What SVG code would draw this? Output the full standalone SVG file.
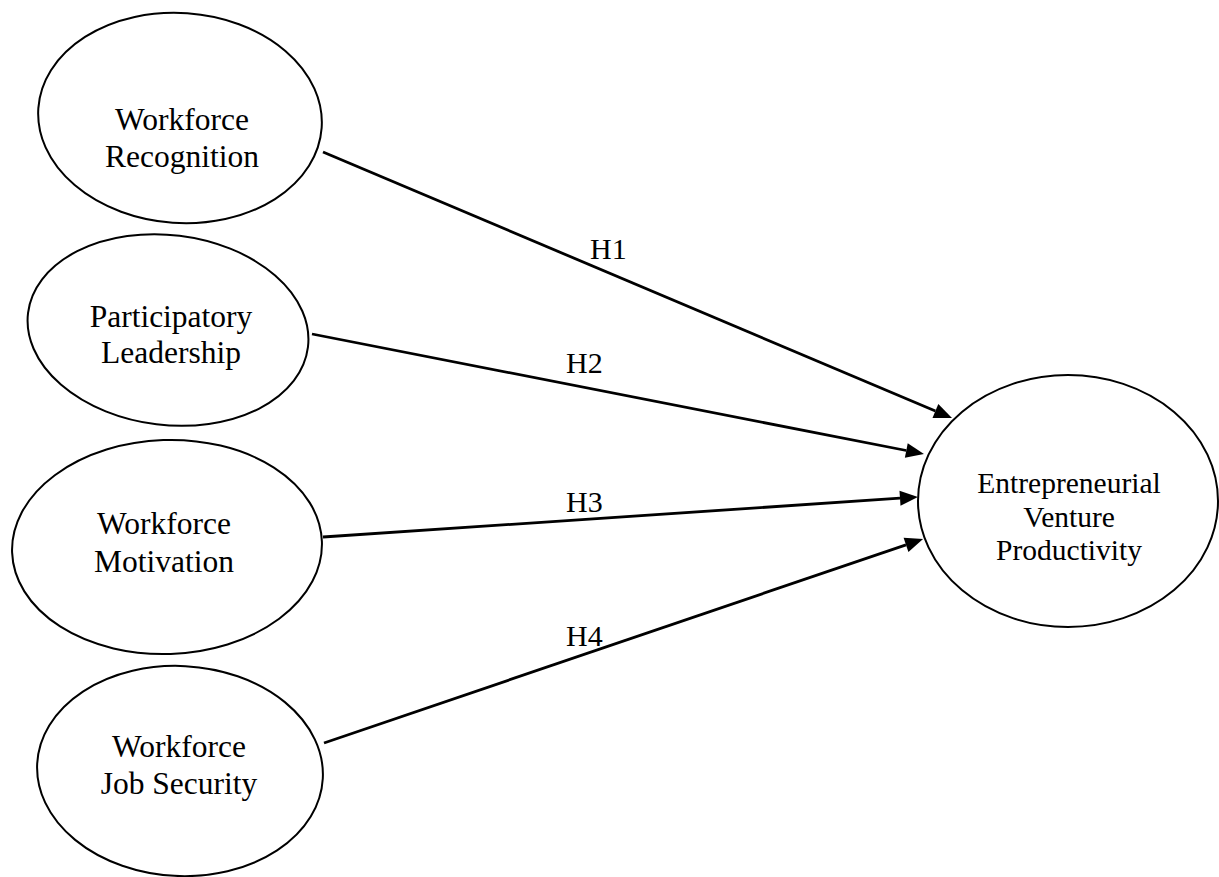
<svg xmlns="http://www.w3.org/2000/svg" width="1219" height="877" viewBox="0 0 1219 877">
<style>
.node ellipse{fill:#fff;stroke:#000;stroke-width:2}
.node text{font-family:"Liberation Serif","Times New Roman",serif;font-size:31.5px;fill:#000;text-anchor:middle}
.conn line{stroke:#000;stroke-width:2.8;fill:none}
.lbl{font-family:"Liberation Serif","Times New Roman",serif;font-size:30px;fill:#000}
</style>
<defs>
<marker id="ah" markerUnits="userSpaceOnUse" markerWidth="19" markerHeight="16" refX="0" refY="8" orient="auto" overflow="visible">
<path d="M0,0.5 L18,8 L0,15.5 z" fill="#000"/>
</marker>
</defs>
<rect width="1219" height="877" fill="#fff"/>
<g id="n1" class="node">
<ellipse cx="180" cy="118" rx="142" ry="105" transform="rotate(4 180 118)"/>
<text x="182" y="130">Workforce</text>
<text x="182" y="167">Recognition</text>
</g>
<g id="n2" class="node">
<ellipse cx="168" cy="330" rx="141" ry="95" transform="rotate(7 168 330)"/>
<text x="171" y="327">Participatory</text>
<text x="171" y="363">Leadership</text>
</g>
<g id="n3" class="node">
<ellipse cx="167" cy="547" rx="155" ry="107" transform="rotate(-2 167 547)"/>
<text x="164" y="534">Workforce</text>
<text x="164" y="572">Motivation</text>
</g>
<g id="n4" class="node">
<ellipse cx="180" cy="771" rx="143" ry="105" transform="rotate(3 180 771)"/>
<text x="179" y="757">Workforce</text>
<text x="179" y="794">Job Security</text>
</g>
<g id="n5" class="node">
<ellipse cx="1068" cy="501" rx="150" ry="126"/>
<text x="1069" y="493" style="font-size:29.5px">Entrepreneurial</text>
<text x="1069" y="527" style="font-size:29.5px">Venture</text>
<text x="1069" y="560" style="font-size:29.5px">Productivity</text>
</g>
<g id="connectors" class="conn">
<line x1="323" y1="152" x2="935.4" y2="411" marker-end="url(#ah)"/>
<line x1="312" y1="334" x2="906.3" y2="450.5" marker-end="url(#ah)"/>
<line x1="323" y1="537" x2="900" y2="498.2" marker-end="url(#ah)"/>
<line x1="324" y1="743" x2="906" y2="544.8" marker-end="url(#ah)"/>
<text class="lbl" x="590" y="259">H1</text>
<text class="lbl" x="566" y="373">H2</text>
<text class="lbl" x="566" y="512">H3</text>
<text class="lbl" x="566" y="646">H4</text>
</g>
</svg>
